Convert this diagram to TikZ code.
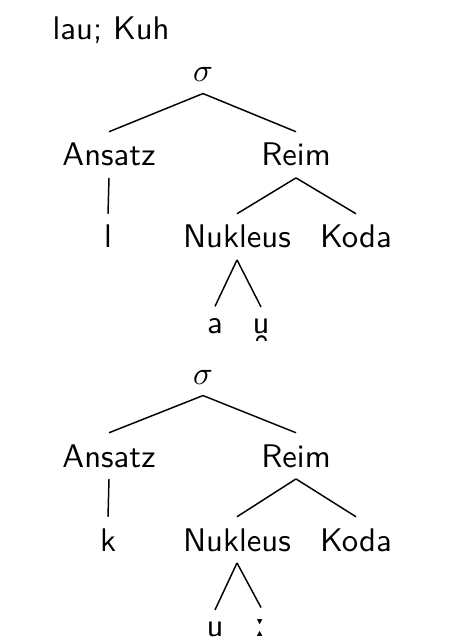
\documentclass[tikz,border=0pt]{standalone}
\usepackage{fontspec}
\newfontfamily\ipafont{DejaVu Sans}
\usetikzlibrary{positioning}

\begin{document}
\begin{tikzpicture}[
        x=0.3058pt, y=-0.3058pt,
        font=\sffamily,
        word/.style={anchor=base, inner sep=0.3333em},
        branch/.style={draw, line width=0.45pt}
    ]
        \useasboundingbox (0,0) rectangle (468,640);

        % Title
        \node[anchor=base west, inner sep=0pt] (title) at (52,40) {lau; Kuh};

        % First tree: lau
        \node[word] (syl1) at (203,82) {$\sigma$};
        \node[word] (ons1) at (109,166) {Ansatz};
        \node[word] (rhy1) at (296,166) {Reim};
        \node[word] (seg1) at (108,248) {l};
        \node[word] (nuc1) at (237,248) {Nukleus};
        \node[word] (cod1) at (356,248) {Koda};
        \node[word] (va1) at (215,333) {a};
        \node[word] (vb1) at (261,333) {u̯};

        \draw[branch] (syl1.south) -- (ons1.north);
        \draw[branch] (syl1.south) -- (rhy1.north);
        \draw[branch] (ons1.south) -- (seg1.north);
        \draw[branch] (rhy1.south) -- (nuc1.north);
        \draw[branch] (rhy1.south) -- (cod1.north);
        \draw[branch] (nuc1.south) -- (va1.north);
        \draw[branch] (nuc1.south) -- (vb1.north);

        % Second tree: Kuh
        \node[word] (syl2) at (203,384) {$\sigma$};
        \node[word] (ons2) at (109,467) {Ansatz};
        \node[word] (rhy2) at (296,467) {Reim};
        \node[word] (seg2) at (108,551) {k};
        \node[word] (nuc2) at (237,551) {Nukleus};
        \node[word] (cod2) at (356,551) {Koda};
        \node[word] (va2) at (215,636) {u};
        \node[word] (vb2) at (261,636) {\ipafont ː};

        \draw[branch] (syl2.south) -- (ons2.north);
        \draw[branch] (syl2.south) -- (rhy2.north);
        \draw[branch] (ons2.south) -- (seg2.north);
        \draw[branch] (rhy2.south) -- (nuc2.north);
        \draw[branch] (rhy2.south) -- (cod2.north);
        \draw[branch] (nuc2.south) -- (va2.north);
        \draw[branch] (nuc2.south) -- (vb2.north);

    \end{tikzpicture}
\end{document}
